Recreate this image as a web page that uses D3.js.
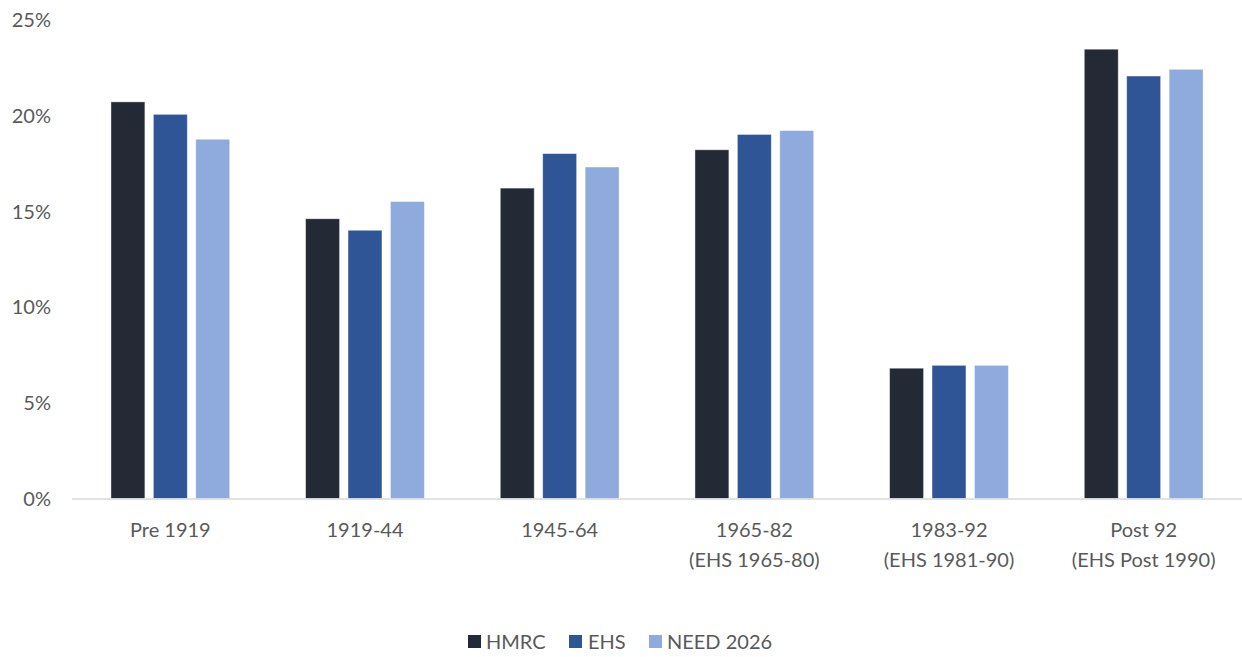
<!DOCTYPE html>
<html>
<head>
<meta charset="utf-8">
<script src="https://cdn.jsdelivr.net/npm/d3@7"></script>
<style>
  html, body { margin: 0; padding: 0; background: #fff; }
  svg text { font-family: Lato, "Open Sans", sans-serif; fill: #595959; }
</style>
</head>
<body>
<svg id="chart" width="1242" height="657"></svg>
<script>
// Share of dwellings by construction period, three sources
const categories = [
  ["Pre 1919"],
  ["1919-44"],
  ["1945-64"],
  ["1965-82", "(EHS 1965-80)"],
  ["1983-92", "(EHS 1981-90)"],
  ["Post 92", "(EHS Post 1990)"]
];
const seriesNames = ["HMRC", "EHS", "NEED 2026"];
const hmrc = [20.7, 14.6, 16.2, 18.2, 6.8, 23.45];
const ehs  = [20.05, 14.0, 18.0, 19.0, 6.95, 22.05];
const need = [18.75, 15.5, 17.3, 19.2, 6.95, 22.4];
const yTicks = [0, 5, 10, 15, 20, 25];
const colors = ["#232a35", "#2f5597", "#8faadc"];

const seriesValues = [hmrc, ehs, need];
const svg = d3.select("#chart");

const plotTop = 19.5, plotBottom = 498.5;
const y = d3.scaleLinear().domain([0, 25]).range([plotBottom, plotTop]);

const x0 = d3.scaleBand()
  .domain(d3.range(categories.length))
  .range([73, 1241])
  .paddingInner(0.39)
  .paddingOuter(0.195);

const x1 = d3.scaleBand()
  .domain(d3.range(seriesNames.length))
  .range([0, x0.bandwidth()])
  .paddingInner(0.2)
  .paddingOuter(0);

// y axis labels (no gridlines)
const yAxis = d3.axisLeft(y).tickValues(yTicks).tickFormat(d => d + "%").tickSize(0).tickPadding(0);
const yG = svg.append("g").attr("transform", "translate(51,0)").call(yAxis);
yG.select(".domain").remove();
yG.selectAll("text")
  .attr("font-size", 20)
  .style("font-family", "Lato, 'Open Sans', sans-serif")
  .attr("fill", "#595959")
  .attr("dy", "0.35em");

// bars
const groups = svg.append("g").selectAll("g")
  .data(categories.map((c, i) => i))
  .join("g")
  .attr("transform", i => `translate(${x0(i)},0)`);

groups.selectAll("rect")
  .data(i => seriesValues.map((vals, s) => ({ s, v: vals[i] })))
  .join("rect")
  .attr("x", d => x1(d.s))
  .attr("width", x1.bandwidth())
  .attr("y", d => y(d.v))
  .attr("height", d => y(0) - y(d.v))
  .attr("fill", d => colors[d.s])
  .attr("stroke", "#ffffff")
  .attr("stroke-opacity", 0.5)
  .attr("stroke-width", 0.8);

// baseline
svg.append("line")
  .attr("x1", 72).attr("x2", 1242)
  .attr("y1", y(0) + 0.5).attr("y2", y(0) + 0.5)
  .attr("stroke", "#d9d9d9")
  .attr("stroke-width", 1.5);

// category labels
const xLabels = svg.append("g");
categories.forEach((lines, i) => {
  const cx = x0(i) + x0.bandwidth() / 2;
  const t = xLabels.append("text")
    .attr("x", cx)
    .attr("y", 537)
    .attr("text-anchor", "middle")
    .attr("font-size", 20);
  lines.forEach((ln, k) => {
    t.append("tspan").attr("x", cx).attr("dy", k === 0 ? 0 : 30).text(ln);
  });
});

// legend
const legendItems = [
  { sq: 468, tx: 486 },
  { sq: 569, tx: 588 },
  { sq: 649, tx: 667 }
];
const legend = svg.append("g");
seriesNames.forEach((name, s) => {
  legend.append("rect")
    .attr("x", legendItems[s].sq).attr("y", 635)
    .attr("width", 13).attr("height", 13)
    .attr("fill", colors[s]);
  legend.append("text")
    .attr("x", legendItems[s].tx).attr("y", 649)
    .attr("font-size", 20)
    .text(name);
});
</script>
</body>
</html>
